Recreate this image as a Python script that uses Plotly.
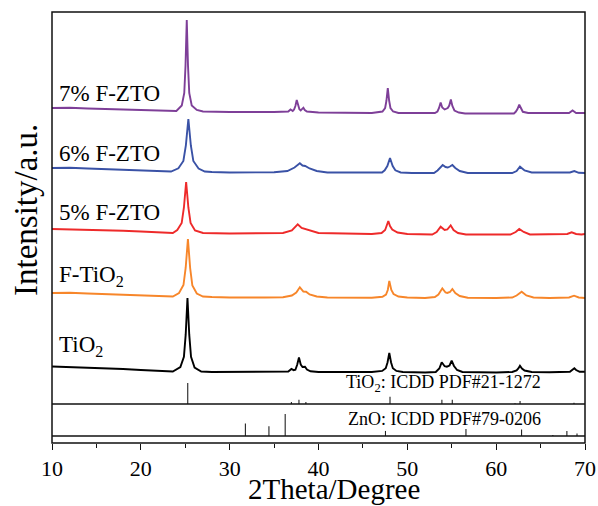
import plotly.graph_objects as go

# ---- XRD patterns: (2theta, intensity) vertices, intensity in arbitrary units ----
TIO2_PATTERN = [
    (10, 0.5), (12, 0), (14, -0.5), (16, -1), (18, -2), (20, -3), (22, -4), (23.6, -4.5),
    (24.45, -0.1), (24.85, 10.2), (25.05, 32.3), (25.25, 69), (25.45, 32.3), (25.65, 10.2),
    (26.05, -0.6), (26.8, -4.5), (28, -5), (30, -5), (32, -5), (34, -5), (36, -5), (36.6, -4.5),
    (36.95, -2), (37.2, -3.2), (37.4, -2.7), (37.6, 2.2), (37.8, 9.5), (38.0, 2.5), (38.2, 0),
    (38.48, 0.3), (38.7, -2.5), (39.1, -4.3), (40, -5), (42, -5), (44, -5), (46, -5),
    (47.17, -3.9), (47.57, -1.2), (47.77, 4.5), (47.97, 14), (48.17, 4.5), (48.37, -1.2),
    (48.77, -3.9), (49.5, -5), (52, -5.5), (53.2, -5), (53.6, -1.5), (53.87, 4.7), (54.2, 0.8),
    (54.45, 0.3), (54.75, 1.5), (54.99, 6.3), (55.25, 1), (55.6, -3), (56.2, -5), (58, -5.5),
    (60, -5.5), (61.8, -5), (62.3, -3.5), (62.5, -1.5), (62.68, 1.3), (62.9, -1.5), (63.2, -3.5),
    (64, -5), (66, -5.3), (68.3, -4.8), (68.6, -3), (68.8, -1.3), (69.0, -3), (69.4, -4.8), (70, -4.7),
]

F_TIO2_PATTERN = [
    (10, 0), (12, 0.3), (14, -0.5), (16, -1), (18, -1.5), (20, -2.2), (22, -3), (23.6, -3.5),
    (24.3, 0), (24.8, 8), (25.05, 25.3), (25.3, 54), (25.55, 25), (25.8, 7.5), (26.3, -0.5),
    (27, -3.5), (28, -4), (30, -4.5), (34, -4.5), (36, -4.3), (37, -2.5), (37.5, 0.5),
    (37.9, 5.7), (38.3, 1.5), (38.6, 1.3), (39, -1.5), (39.8, -3.5), (41, -4.5), (46, -4.8),
    (47.2, -3.8), (47.6, -1.5), (47.8, 3), (47.97, 12), (48.2, 3), (48.45, -1), (49, -3.5),
    (50, -4.5), (52, -5), (53.1, -4), (53.5, -1.5), (53.94, 4.7), (54.3, 0.5), (54.5, 0),
    (54.8, 1), (55.07, 4), (55.4, 0), (55.9, -3), (56.8, -4.8), (60, -5), (61.8, -4.5),
    (62.3, -2.5), (62.87, 1.3), (63.4, -2.5), (64.2, -4.5), (66, -5), (68.2, -4.5),
    (68.77, -2.7), (69.3, -4.5), (70, -5),
]

ZTO5_PATTERN = [
    (10, 0), (13, -0.5), (16, -1), (18, -1.8), (20, -2.5), (23, -3.5), (23.6, -4), (24.1, -1),
    (24.6, 6), (24.85, 21.5), (25.1, 47), (25.35, 21.5), (25.6, 6), (26.1, -1.5), (27, -4),
    (30, -4.5), (34, -4.5), (36, -4), (37, -1.5), (37.66, 4.7), (38.1, 1), (38.5, 0), (39, -2),
    (40, -4), (46, -5), (47.1, -4), (47.5, -1), (47.7, 3), (47.86, 8), (48.05, 3), (48.3, -0.5),
    (48.9, -3.5), (50, -5), (52.8, -5.5), (53.3, -3), (53.75, 2.3), (54.2, -1), (54.5, -0.5),
    (54.88, 3.7), (55.2, -1), (55.7, -4), (56.6, -5.5), (61.6, -5.5), (62.2, -3), (62.6, 0),
    (63.1, -3), (63.8, -5.5), (68, -5), (68.5, -3.3), (69, -5), (69.6, -5.5), (70, -5),
]

ZTO6_PATTERN = [
    (10, 0), (12, 0.2), (14, -0.5), (16, -1), (18, -1.5), (20, -2.2), (22, -3), (23.4, -3.5),
    (24.23, -0.3), (24.79, 7), (25.07, 22.7), (25.35, 49), (25.63, 22.5), (25.91, 7),
    (26.5, -0.5), (27.2, -3.5), (28, -4), (30, -4.5), (35, -4.3), (36.5, -3), (37.3, 0.5),
    (37.9, 4.7), (38.2, 2.5), (38.5, 2), (39, -0.5), (39.8, -3), (41, -4.5), (46, -5),
    (47.15, -4.5), (47.45, -2.3), (47.75, 2), (48.05, 10), (48.35, 2), (48.65, -2.3),
    (49.25, -4.5), (50.5, -5), (53, -5), (53.4, -2.5), (53.98, 3), (54.3, 1), (54.55, 0.5),
    (54.8, 1.5), (55.07, 3), (55.4, 0), (55.9, -3), (56.8, -5), (61.8, -5), (62.3, -3),
    (62.68, 1.3), (63.2, -2.5), (64, -4.5), (68.3, -4.5), (68.8, -3), (69.3, -4.8), (70, -5),
]

ZTO7_PATTERN = [
    (10, 0), (12, 0.3), (14, -0.5), (16, -1), (18, -1.5), (20, -2), (22, -2.5), (24, -3),
    (24.61, 2.5), (24.89, 15), (25.03, 42.5), (25.17, 88), (25.31, 42.5), (25.45, 15),
    (25.73, 2.5), (26.3, -2), (27, -3.5), (30, -4), (35, -4), (36.6, -3.5), (36.85, -1.5),
    (37.1, -3), (37.25, -1.6), (37.4, 2), (37.55, 8), (37.7, 2), (37.85, -1.2), (38.0, -2.5),
    (38.15, -1.5), (38.3, 0.3), (38.45, -2), (38.7, -3.5), (40, -4.5), (46, -5), (47.2, -3.5),
    (47.5, 0), (47.65, 7.5), (47.8, 20), (47.95, 7.5), (48.1, 0), (48.4, -3.5), (49, -5),
    (53.1, -5), (53.39, -3.5), (53.57, 0), (53.75, 5.5), (53.93, 0.5), (54.2, -1.5),
    (54.55, 0), (54.72, 2.5), (54.9, 8.5), (55.07, 2), (55.3, -2.5), (55.8, -4.5),
    (56.5, -5.5), (62.0, -5.5), (62.2, -3.8), (62.4, -1), (62.6, 3.3), (62.8, -1),
    (63.0, -3.8), (63.6, -5), (68.2, -5), (68.6, -2.5), (69, -5), (70, -5),
]

# ---- standard reference lines (relative intensity, %) ----
TIO2_REF_POS = [25.28, 36.95, 37.80, 38.58, 48.05, 53.89, 55.06, 62.12, 62.69, 68.76]
TIO2_REF_INT = [100, 10, 20, 10, 35, 20, 20, 4, 14, 6]
ZNO_REF_POS = [31.77, 34.42, 36.25, 47.54, 56.60, 62.86, 66.38, 67.96, 69.10]
ZNO_REF_INT = [57, 44, 100, 23, 32, 29, 4, 23, 11]

SAMPLES = ["TiO2", "F-TiO2", "5% F-ZTO", "6% F-ZTO", "7% F-ZTO"]
PATTERNS = [TIO2_PATTERN, F_TIO2_PATTERN, ZTO5_PATTERN, ZTO6_PATTERN, ZTO7_PATTERN]
LABELS = ["TiO<sub>2</sub>", "F-TiO<sub>2</sub>", "5% F-ZTO", "6% F-ZTO", "7% F-ZTO"]
X_TICKS = [10, 20, 30, 40, 50, 60, 70]

# ---- styling / stacking ----
COLORS = ["#000000", "#F7862A", "#EE2A2A", "#3A52A6", "#7E3F98"]
STACK_OFFSET = [37, 111, 175, 236, 296]
LABEL_RISE = [21, 17, 17, 15, 15]
FONT = "Liberation Serif, Times New Roman, serif"

W, H = 598, 506
M_L, M_R, M_T, M_B = 52, 13, 12, 63
PLOT_W = W - M_L - M_R
PLOT_H = H - M_T - M_B


def frac(py):
    """pixel row -> paper fraction"""
    return (H - M_B - py) / PLOT_H


def xfrac(px):
    """pixel column -> paper fraction"""
    return (px - M_L) / PLOT_W


MAIN_BOTTOM = frac(404)
ZNO_BOTTOM = frac(436)

fig = go.Figure()

for name, pat, col, off in zip(SAMPLES, PATTERNS, COLORS, STACK_OFFSET):
    fig.add_trace(go.Scatter(
        x=[p[0] for p in pat], y=[p[1] + off for p in pat],
        mode="lines", name=name, line=dict(color=col, width=1.9),
        showlegend=False, hoverinfo="skip", yaxis="y",
    ))


def sticks(pos, inten):
    xs, ys = [], []
    for p, i in zip(pos, inten):
        xs += [p, p, None]
        ys += [0, i, None]
    return xs, ys


sx, sy = sticks(TIO2_REF_POS, TIO2_REF_INT)
fig.add_trace(go.Scatter(x=sx, y=sy, mode="lines", yaxis="y3",
                         line=dict(color="#222", width=1.1), showlegend=False,
                         hoverinfo="skip"))
zx, zy = sticks(ZNO_REF_POS, ZNO_REF_INT)
fig.add_trace(go.Scatter(x=zx, y=zy, mode="lines", yaxis="y2",
                         line=dict(color="#222", width=1.1), showlegend=False,
                         hoverinfo="skip"))

annotations = []
for lab, off, rise in zip(LABELS, STACK_OFFSET, LABEL_RISE):
    annotations.append(dict(
        x=10.55, y=off + rise, xref="x", yref="y", text=lab, showarrow=False,
        xanchor="left", yanchor="middle", font=dict(family=FONT, size=23, color="#000"),
    ))

annotations += [
    dict(x=xfrac(543), y=frac(383), xref="paper", yref="paper",
         text="TiO<sub>2</sub>: ICDD PDF#21-1272", showarrow=False, xanchor="right",
         yanchor="middle", font=dict(family=FONT, size=18, color="#000")),
    dict(x=xfrac(543), y=frac(419), xref="paper", yref="paper",
         text="ZnO: ICDD PDF#79-0206", showarrow=False, xanchor="right",
         yanchor="middle", font=dict(family=FONT, size=18, color="#000")),
    dict(x=xfrac(334), y=frac(489), xref="paper", yref="paper", text="2Theta/Degree",
         showarrow=False, xanchor="center", yanchor="middle",
         font=dict(family=FONT, size=29, color="#000")),
    dict(x=xfrac(26), y=frac(210), xref="paper", yref="paper",
         text="Intensity/a.u.", textangle=-90, showarrow=False, xanchor="center",
         yanchor="middle", font=dict(family=FONT, size=33, color="#000")),
]

frame = dict(color="#111", width=1.5)
shapes = [
    dict(type="rect", xref="paper", yref="paper", x0=0, x1=1, y0=0, y1=1, line=frame),
    dict(type="line", xref="paper", yref="paper", x0=0, x1=1, y0=MAIN_BOTTOM, y1=MAIN_BOTTOM, line=frame),
    dict(type="line", xref="paper", yref="paper", x0=0, x1=1, y0=ZNO_BOTTOM, y1=ZNO_BOTTOM, line=frame),
]

fig.update_layout(
    width=W, height=H, margin=dict(l=M_L, r=M_R, t=M_T, b=M_B, pad=0, autoexpand=False),
    paper_bgcolor="white", plot_bgcolor="white",
    font=dict(family=FONT, color="#000"),
    xaxis=dict(range=[10, 70], anchor="free", position=0, tickvals=X_TICKS,
               automargin=False,
               ticks="outside", ticklen=6, tickwidth=1.4, tickcolor="#111",
               minor=dict(dtick=5, tick0=10, ticks="outside", ticklen=3.5,
                          tickwidth=1.4, tickcolor="#111"),
               showgrid=False, zeroline=False, showline=False,
               tickfont=dict(family=FONT, size=22, color="#000")),
    yaxis=dict(domain=[MAIN_BOTTOM, 1], range=[0, 392], visible=False, automargin=False),
    yaxis2=dict(domain=[ZNO_BOTTOM, frac(414)], range=[0, 100], visible=False,
                anchor="x", automargin=False),
    yaxis3=dict(domain=[MAIN_BOTTOM, frac(383)], range=[0, 100], visible=False,
                anchor="x", automargin=False),
    annotations=annotations, shapes=shapes,
)

fig.write_html("out.html")
